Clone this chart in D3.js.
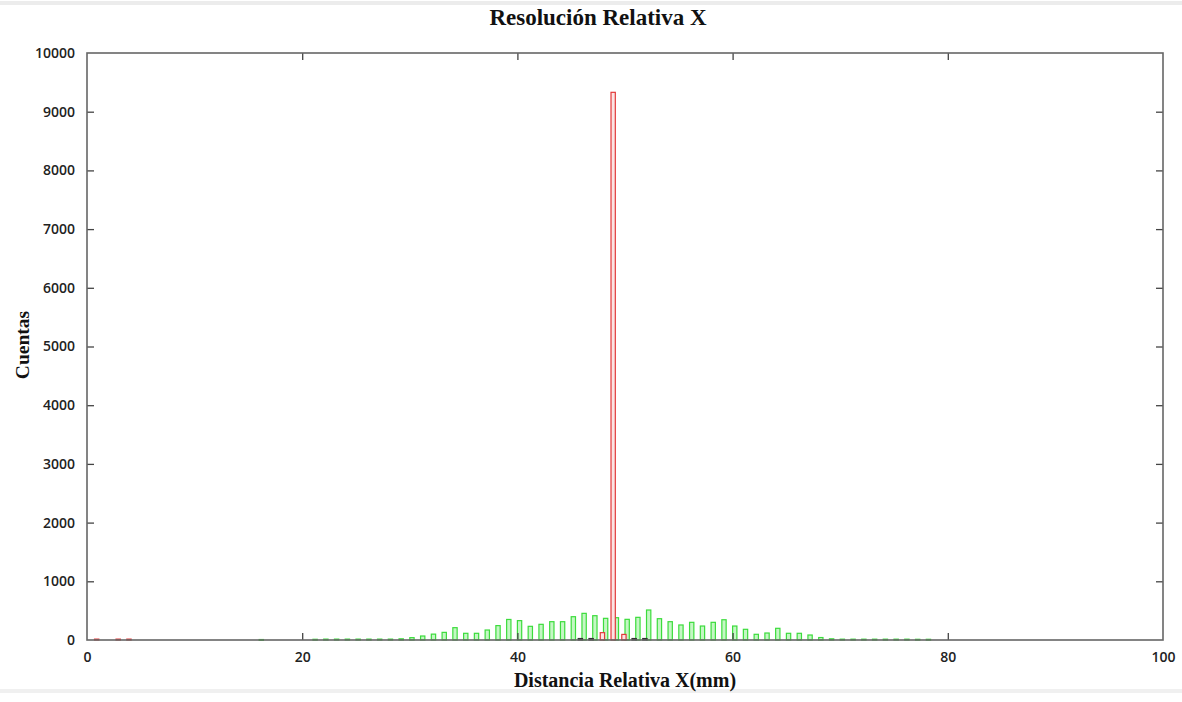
<!DOCTYPE html>
<html>
<head>
<meta charset="utf-8">
<script src="https://cdn.jsdelivr.net/npm/d3@7"></script>
<style>
  html, body { margin: 0; padding: 0; background: #fff; }
  svg { display: block; }
</style>
</head>
<body>
<svg id="chart" width="1182" height="702"></svg>
<script>
// Histogram bins (mm) and counts
const greenBins = [16, 21, 22, 23, 24, 25, 26, 27, 28, 29, 30, 31, 32, 33, 34, 35, 36, 37, 38, 39,
  40, 41, 42, 43, 44, 45, 46, 47, 48, 49, 50, 51, 52, 53, 54, 55, 56, 57, 58, 59,
  60, 61, 62, 63, 64, 65, 66, 67, 68, 69, 70, 71, 72, 73, 74, 75, 76, 77, 78];
const greenCounts = [8, 12, 15, 15, 15, 15, 15, 15, 15, 20, 40, 68, 100, 130, 210, 114, 114, 170, 245, 350,
  330, 233, 267, 312, 312, 397, 454, 414, 369, 380, 352, 386, 511, 363, 312, 256, 301, 238, 301, 345,
  238, 182, 97, 119, 199, 114, 114, 85, 42, 20, 14, 14, 14, 14, 14, 14, 14, 12, 12];

const redBins = [1, 3, 4, 48, 49, 50];
const redCounts = [15, 15, 15, 125, 9330, 95];

const darkBins = [46, 47, 51, 52];
const darkCounts = [25, 25, 25, 25];

const xTicks = [0, 20, 40, 60, 80, 100];
const yTicks = [0, 1000, 2000, 3000, 4000, 5000, 6000, 7000, 8000, 9000, 10000];

const titleText = "Resolución Relativa X";
const xLabelText = "Distancia Relativa X(mm)";
const yLabelText = "Cuentas";

const svg = d3.select("#chart");
const W = 1182, H = 702;
const m = { left: 87, right: 1163, top: 53, bottom: 640 };

const x = d3.scaleLinear().domain([0, 100]).range([m.left, m.right]);
const y = d3.scaleLinear().domain([0, 10000]).range([m.bottom, m.top]);

// light bands at the top and bottom edges of the page
svg.append("rect").attr("x", 0).attr("y", 1).attr("width", W).attr("height", 4).attr("fill", "#ececec");
svg.append("rect").attr("x", 0).attr("y", 689).attr("width", W).attr("height", 4).attr("fill", "#f0f0f0");

const barW = x(0.4) - x(0);

function drawBars(bins, counts, offset, stroke, fill) {
  const data = bins.map((b, i) => ({ b, c: counts[i] }));
  svg.append("g").selectAll("rect").data(data).join("rect")
    .attr("x", d => x(d.b + offset) - barW / 2)
    .attr("y", d => y(d.c))
    .attr("width", barW)
    .attr("height", d => Math.max(0.8, y(0) - y(d.c)))
    .attr("fill", fill)
    .attr("stroke", stroke)
    .attr("stroke-width", 1.2);
}

drawBars(greenBins, greenCounts, 0.2, "#3cdc3c", "#c4f7c4");
drawBars(darkBins, darkCounts, -0.15, "#333", "#555");
drawBars(redBins, redCounts, -0.1, "#e23a3a", "#fbe4e4");

// axes with inward ticks, mirrored on top and right
const tickLen = 7;
const axisColor = "#666";
const fmt = d3.format("d");

const xBottom = d3.axisBottom(x).tickValues(xTicks).tickFormat(fmt).tickSizeInner(-tickLen).tickSizeOuter(0).tickPadding(12);
const gxb = svg.append("g").attr("transform", `translate(0,${m.bottom})`).call(xBottom);
const xTop = d3.axisTop(x).tickValues(xTicks).tickSizeInner(-tickLen).tickSizeOuter(0).tickFormat("");
const gxt = svg.append("g").attr("transform", `translate(0,${m.top})`).call(xTop);
const yLeft = d3.axisLeft(y).tickValues(yTicks).tickFormat(fmt).tickSizeInner(-tickLen).tickSizeOuter(0).tickPadding(12);
const gyl = svg.append("g").attr("transform", `translate(${m.left},0)`).call(yLeft);
const yRight = d3.axisRight(y).tickValues(yTicks).tickSizeInner(-tickLen).tickSizeOuter(0).tickFormat("");
const gyr = svg.append("g").attr("transform", `translate(${m.right},0)`).call(yRight);

[gxb, gxt, gyl, gyr].forEach(g => {
  g.select(".domain").remove();
  g.selectAll(".tick line").attr("stroke", "#444").attr("stroke-width", 1.3);
  g.selectAll(".tick text")
    .attr("fill", "#222")
    .style("font-family", "'Open Sans', 'DejaVu Sans', sans-serif")
    .style("font-weight", "600")
    .style("font-size", "14px");
});
// hide end ticks that sit on the frame
gxb.selectAll(".tick").filter(d => d === 0 || d === 100).select("line").remove();
gxt.selectAll(".tick").filter(d => d === 0 || d === 100).select("line").remove();
gyl.selectAll(".tick").filter(d => d === 0 || d === 10000).select("line").remove();
gyr.selectAll(".tick").filter(d => d === 0 || d === 10000).select("line").remove();

// plot frame
svg.append("rect")
  .attr("x", m.left).attr("y", m.top)
  .attr("width", m.right - m.left).attr("height", m.bottom - m.top)
  .attr("fill", "none").attr("stroke", axisColor).attr("stroke-width", 1.6);

const serif = "'Liberation Serif', 'Times New Roman', serif";
svg.append("text").attr("x", 598).attr("y", 25).attr("text-anchor", "middle")
  .style("font-family", serif).style("font-weight", "bold").style("font-size", "23px")
  .attr("fill", "#111").text(titleText);

svg.append("text").attr("x", 625).attr("y", 687).attr("text-anchor", "middle")
  .style("font-family", serif).style("font-weight", "bold").style("font-size", "20px")
  .attr("fill", "#111").text(xLabelText);

svg.append("text").attr("transform", "translate(29,345) rotate(-90)").attr("text-anchor", "middle")
  .style("font-family", serif).style("font-weight", "bold").style("font-size", "19.5px")
  .attr("fill", "#111").text(yLabelText);
</script>
</body>
</html>
